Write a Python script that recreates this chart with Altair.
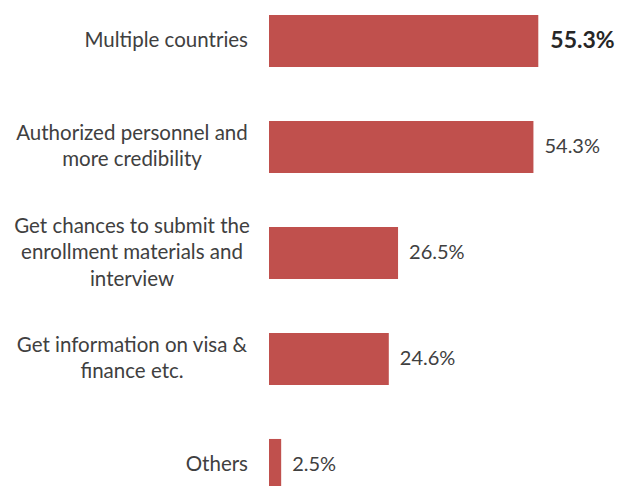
import altair as alt
import pandas as pd

categories = [
    "Multiple countries",
    "Authorized personnel and\nmore credibility",
    "Get chances to submit the\nenrollment materials and\ninterview",
    "Get information on visa &\nfinance etc.",
    "Others",
]
values = [55.3, 54.3, 26.5, 24.6, 2.5]
highlight = categories[0]

df = pd.DataFrame({"category": categories, "value": values})

FONT = "Lato"
TEXT_COLOR = "#404040"
LINE_H = 26.5

y_enc = alt.Y(
    "category:N",
    sort=categories,
    axis=None,
    scale=alt.Scale(range=[7, 483], paddingInner=0.509, paddingOuter=0),
)
x_enc = alt.X(
    "value:Q", axis=None, scale=alt.Scale(domain=[0, 71.05], nice=False, zero=True)
)

base = alt.Chart(df).transform_calculate(
    txt="format(datum.value, '.1f') + '%'",
    nlines="length(split(datum.category, '\\n'))",
)

bars = base.mark_bar(color="#C0504D").encode(x=x_enc, y=y_enc)

values_reg = base.transform_filter(alt.datum.category != highlight).mark_text(
    align="left", baseline="middle", dx=11, font=FONT, fontSize=20, color=TEXT_COLOR
).encode(x=x_enc, y=y_enc, text="txt:N")

values_bold = base.transform_filter(alt.datum.category == highlight).mark_text(
    align="left", baseline="middle", dx=12, font=FONT, fontSize=23,
    fontWeight="bold", color="#262626"
).encode(x=x_enc, y=y_enc, text="txt:N")

label_layers = []
line_counts = sorted(set(c.count("\n") + 1 for c in categories))
for n in line_counts:
    if n == 1:
        lyr = base.transform_filter("datum.nlines == 1").mark_text(
            align="right", baseline="middle", font=FONT, fontSize=20.5,
            color=TEXT_COLOR
        ).encode(x=alt.value(-21), y=y_enc, text="category:N")
    else:
        lyr = base.transform_filter(f"datum.nlines == {n}").mark_text(
            align="center", baseline="middle", font=FONT, fontSize=20.5,
            lineBreak="\n", lineHeight=LINE_H, dy=-(n - 1) * LINE_H / 2,
            color=TEXT_COLOR
        ).encode(x=alt.value(-137), y=y_enc, text="category:N")
    label_layers.append(lyr)

chart = alt.layer(bars, values_reg, values_bold, *label_layers).properties(
    width=346,
    height=478,
    background="white",
    autosize=alt.AutoSizeParams(type="none"),
    padding={"left": 261, "top": 0, "right": 0, "bottom": 0},
).configure_view(stroke=None)

chart.save("out.html", embed_options={"renderer": "svg", "actions": False})
